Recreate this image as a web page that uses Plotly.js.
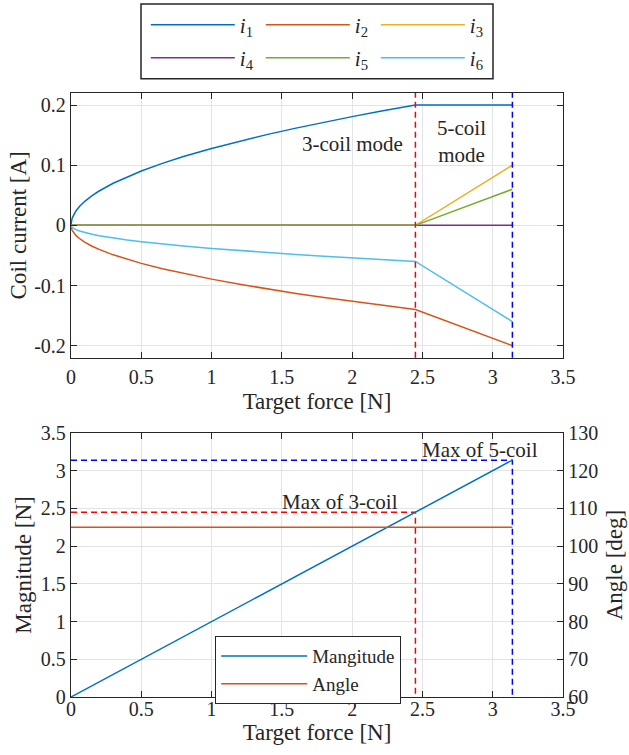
<!DOCTYPE html>
<html><head><meta charset="utf-8">
<script src="https://cdn.plot.ly/plotly-3.0.1.min.js"></script>
<style>html,body{margin:0;padding:0;background:#fff}#g{width:629px;height:755px}</style>
</head><body><div id="g"></div>
<script>
// ---- data ----
const force = [0, 0.001, 0.003, 0.006, 0.01, 0.02, 0.035, 0.06, 0.1, 0.15, 0.2, 0.3, 0.4, 0.5, 0.65, 0.8, 1.0, 1.2, 1.4, 1.6, 1.8, 2.0, 2.2, 2.45, 3.14];
const i1 = [0, 0.0040, 0.0070, 0.0099, 0.0128, 0.0181, 0.0239, 0.0313, 0.0404, 0.0495, 0.0571, 0.0700, 0.0808, 0.0904, 0.1030, 0.1143, 0.1278, 0.1400, 0.1512, 0.1616, 0.1714, 0.1807, 0.1895, 0.2, 0.2];
const i2 = [0, -0.0028, -0.0049, -0.0069, -0.0089, -0.0126, -0.0167, -0.0219, -0.0283, -0.0347, -0.0400, -0.0490, -0.0566, -0.0632, -0.0721, -0.0800, -0.0894, -0.0980, -0.1058, -0.1131, -0.1200, -0.1265, -0.1327, -0.14, -0.2];
const i3 = [0, 0, 0, 0, 0, 0, 0, 0, 0, 0, 0, 0, 0, 0, 0, 0, 0, 0, 0, 0, 0, 0, 0, 0, 0.1];
const i4 = [0, 0, 0, 0, 0, 0, 0, 0, 0, 0, 0, 0, 0, 0, 0, 0, 0, 0, 0, 0, 0, 0, 0, 0, 0];
const i5 = [0, 0, 0, 0, 0, 0, 0, 0, 0, 0, 0, 0, 0, 0, 0, 0, 0, 0, 0, 0, 0, 0, 0, 0, 0.06];
const i6 = [0, -0.0012, -0.0021, -0.0030, -0.0038, -0.0054, -0.0072, -0.0094, -0.0121, -0.0148, -0.0171, -0.0210, -0.0242, -0.0271, -0.0309, -0.0343, -0.0383, -0.0420, -0.0453, -0.0485, -0.0514, -0.0542, -0.0569, -0.06, -0.16];
const currentNames = ['<i>i</i><sub>1</sub>', '<i>i</i><sub>2</sub>', '<i>i</i><sub>3</sub>', '<i>i</i><sub>4</sub>', '<i>i</i><sub>5</sub>', '<i>i</i><sub>6</sub>'];

const magForce = [0, 3.14];
const magnitude = [0, 3.14];
const angleForce = [0, 3.14];
const angle = [105, 105];

const max3 = 2.45;   // max force of 3-coil mode [N]
const max5 = 3.14;   // max force of 5-coil mode [N]

const xTicks = [0, 0.5, 1, 1.5, 2, 2.5, 3, 3.5];
const xTickText = ['0', '0.5', '1', '1.5', '2', '2.5', '3', '3.5'];
const curTicks = [-0.2, -0.1, 0, 0.1, 0.2];
const curTickText = ['-0.2', '-0.1', '0', '0.1', '0.2'];
const magTicks = [0, 0.5, 1, 1.5, 2, 2.5, 3, 3.5];
const magTickText = ['0', '0.5', '1', '1.5', '2', '2.5', '3', '3.5'];
const angTicks = [60, 70, 80, 90, 100, 110, 120, 130];

// ---- styling ----
const colors = ['#0072BD', '#D95319', '#EDB120', '#7E2F8E', '#77AC30', '#4DBEEE'];
const FONT = '"Liberation Serif", "Times New Roman", serif';
const AX = '#262626';
const GRID = '#e3e3e3';

const series = [i1, i2, i3, i4, i5, i6];
const traces = series.map((s, k) => ({
  x: force, y: s, type: 'scatter', mode: 'lines', name: currentNames[k],
  line: {color: colors[k], width: 1.5}, xaxis: 'x', yaxis: 'y',
  legend: k < 3 ? 'legend' : 'legend2', hoverinfo: 'skip'
}));

// bottom dashed guides (through axis scales)
traces.push({x: [0, max5, max5], y: [max5, max5, 0], type: 'scatter', mode: 'lines', xaxis: 'x2', yaxis: 'y2',
  line: {color: '#0000FF', width: 1.5, dash: '6px,4px'}, showlegend: false, hoverinfo: 'skip'});
traces.push({x: [0, max3, max3], y: [max3, max3, 0], type: 'scatter', mode: 'lines', xaxis: 'x2', yaxis: 'y2',
  line: {color: '#FF0000', width: 1.5, dash: '6px,4px'}, showlegend: false, hoverinfo: 'skip'});

traces.push({x: magForce, y: magnitude, type: 'scatter', mode: 'lines', name: 'Mangitude', xaxis: 'x2', yaxis: 'y2',
  line: {color: colors[0], width: 1.5}, legend: 'legend3', hoverinfo: 'skip'});
traces.push({x: angleForce, y: angle, type: 'scatter', mode: 'lines', name: 'Angle', xaxis: 'x2', yaxis: 'y3',
  line: {color: colors[1], width: 1.5}, legend: 'legend3', hoverinfo: 'skip'});

const tickFont = {family: FONT, size: 20, color: AX};
const titleFont = {family: FONT, size: 23, color: AX};
const baseAxis = {
  showline: true, linecolor: AX, linewidth: 1.2, ticks: 'inside', ticklen: 6, tickcolor: AX, tickwidth: 1,
  showgrid: true, gridcolor: GRID, gridwidth: 1, zeroline: false, tickfont: tickFont, tickmode: 'array'
};

const H = 604; // plot area height in px (755 - 93 - 58)
const legFont = {family: FONT, size: 21, color: AX};

const layout = {
  width: 629, height: 755,
  margin: {l: 71, r: 66, t: 93, b: 58, autoexpand: false},
  paper_bgcolor: '#fff', plot_bgcolor: '#fff',
  font: {family: FONT, color: AX},
  showlegend: true,
  xaxis: Object.assign({}, baseAxis, {domain: [0, 1], anchor: 'y', range: [0, 3.5], tickvals: xTicks, ticktext: xTickText,
    mirror: 'ticks', ticklabelstandoff: 1, title: {text: 'Target force [N]', font: titleFont, standoff: 6}}),
  yaxis: Object.assign({}, baseAxis, {domain: [1 - 264.7 / H, 1], anchor: 'x', range: [-0.22, 0.22], tickvals: curTicks, ticktext: curTickText,
    mirror: 'ticks', title: {text: 'Coil current [A]', font: titleFont, standoff: 1}}),
  xaxis2: Object.assign({}, baseAxis, {domain: [0, 1], anchor: 'y2', range: [0, 3.5], tickvals: xTicks, ticktext: xTickText,
    mirror: 'ticks', ticklabelstandoff: -6, title: {text: 'Target force [N]', font: titleFont, standoff: 1}}),
  yaxis2: Object.assign({}, baseAxis, {domain: [0, 264 / H], anchor: 'x2', range: [0, 3.5], tickvals: magTicks, ticktext: magTickText,
    title: {text: 'Magnitude [N]', font: titleFont, standoff: 2}}),
  yaxis3: Object.assign({}, baseAxis, {overlaying: 'y2', side: 'right', anchor: 'x2', range: [60, 130], tickvals: angTicks,
    showgrid: false, title: {text: 'Angle [deg]', font: titleFont, standoff: 8}}),
  legend: {orientation: 'h', x: 0.152, y: (697 - 25) / H, xanchor: 'left', yanchor: 'middle', bgcolor: 'rgba(0,0,0,0)',
    borderwidth: 0, font: legFont, itemwidth: 84, entrywidth: 16, entrywidthmode: 'pixels', traceorder: 'normal'},
  legend2: {orientation: 'h', x: 0.152, y: (697 - 58) / H, xanchor: 'left', yanchor: 'middle', bgcolor: 'rgba(0,0,0,0)',
    borderwidth: 0, font: legFont, itemwidth: 84, entrywidth: 16, entrywidthmode: 'pixels', traceorder: 'normal'},
  legend3: {x: (215 - 71) / 492, y: (697 - 636) / H, xanchor: 'left', yanchor: 'top', bgcolor: '#fff',
    bordercolor: AX, borderwidth: 1.2, font: {family: FONT, size: 19, color: AX}, itemwidth: 86, traceorder: 'normal'},
  shapes: [
    {type: 'line', xref: 'x', yref: 'y domain', x0: max3, x1: max3, y0: 0, y1: 1, line: {color: '#FF0000', width: 1.5, dash: '6px,4px'}},
    {type: 'line', xref: 'x', yref: 'y domain', x0: max5, x1: max5, y0: 0, y1: 1, line: {color: '#0000FF', width: 1.5, dash: '6px,4px'}},
    {type: 'rect', xref: 'paper', yref: 'paper', x0: (141 - 71) / 492, x1: (493 - 71) / 492, y0: (697 - 78.7) / H, y1: (697 - 4) / H,
      line: {color: AX, width: 1.5}, fillcolor: 'rgba(0,0,0,0)'}
  ],
  annotations: [
    {xref: 'x', yref: 'y', x: max3, y: 0.136, xshift: -10, xanchor: 'right', yanchor: 'middle', showarrow: false,
      text: '3-coil mode', font: {family: FONT, size: 21, color: AX}},
    {xref: 'x', yref: 'y', x: 2.78, y: 0.139, xanchor: 'center', yanchor: 'middle', showarrow: false,
      text: '5-coil<br>mode', font: {family: FONT, size: 21, color: AX}},
    {xref: 'x2', yref: 'y2', x: 1.914, y: 2.59, xanchor: 'center', yanchor: 'middle', showarrow: false,
      text: 'Max of 3-coil', font: {family: FONT, size: 21, color: AX}},
    {xref: 'x2', yref: 'y2', x: 2.91, y: 3.275, xanchor: 'center', yanchor: 'middle', showarrow: false,
      text: 'Max of 5-coil', font: {family: FONT, size: 21, color: AX}}
  ]
};

Plotly.newPlot('g', traces, layout, {displayModeBar: false, staticPlot: true});
</script></body></html>
